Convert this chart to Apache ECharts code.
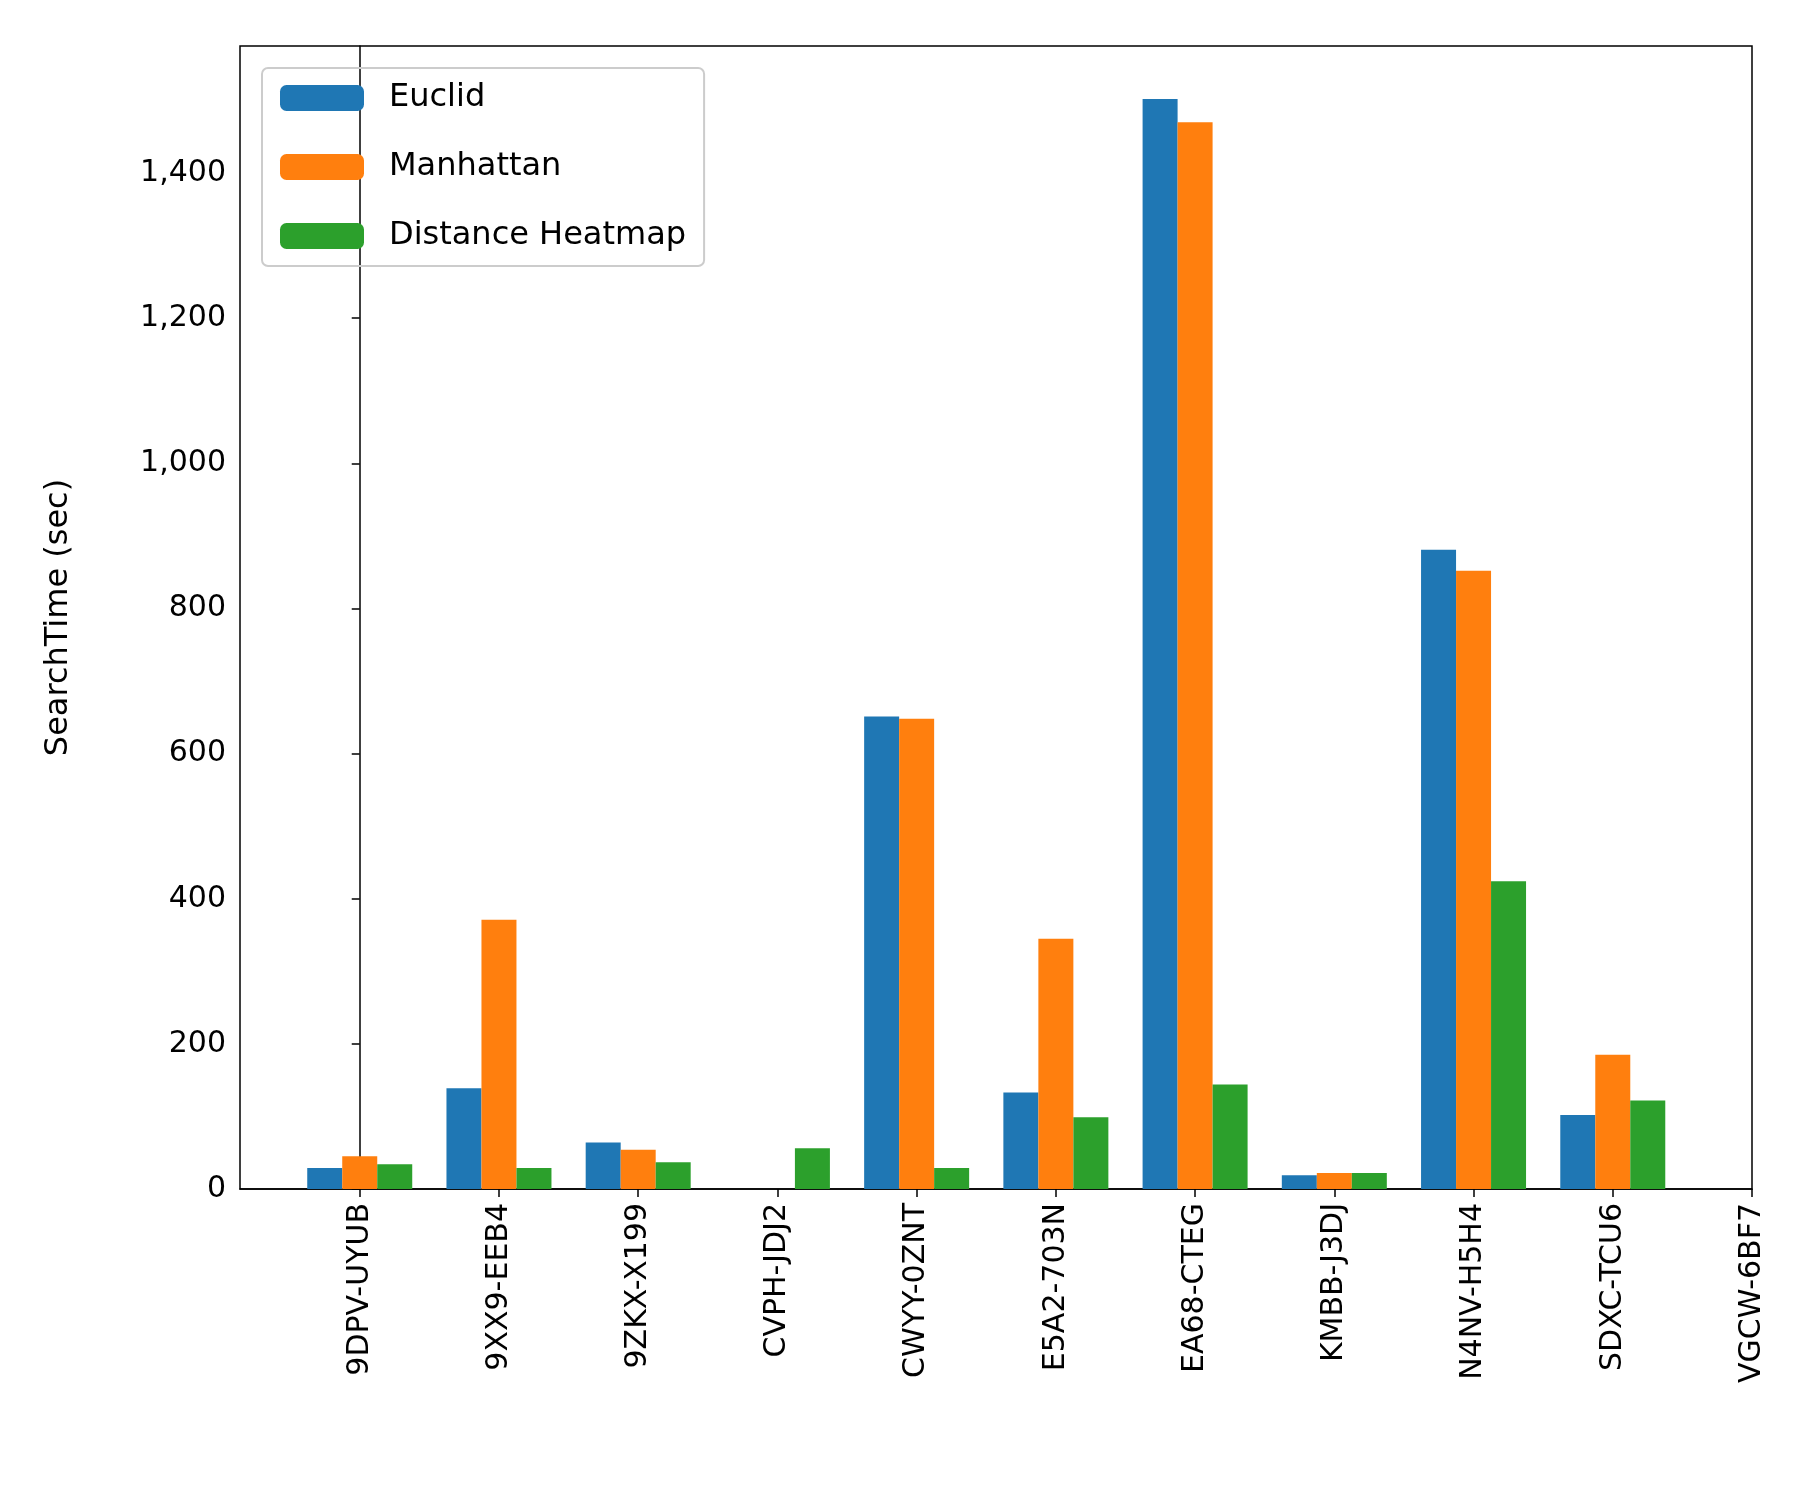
<!DOCTYPE html>
<html>
<head>
<meta charset="utf-8">
<script src="https://cdn.jsdelivr.net/npm/echarts@6/dist/echarts.min.js"></script>
</head>
<body style="margin:0">
<div id="main" style="width:1800px;height:1500px"></div>
<script>
var categories = ['9DPV-UYUB','9XX9-EEB4','9ZKX-X199','CVPH-JDJ2','CWYY-0ZNT','E5A2-703N','EA68-CTEG','KMBB-J3DJ','N4NV-H5H4','SDXC-TCU6','VGCW-6BF7'];
var euclid    = [29, 139, 64, 0, 651, 133, 1502, 19, 881, 102, null];
var manhattan = [45, 371, 54, 0, 648, 345, 1470, 22, 852, 185, null];
var heatmap   = [34, 29, 37, 56, 29, 99, 144, 22, 424, 122, null];

function pts(arr) {
  var out = [];
  arr.forEach(function (v, i) { if (v !== null) out.push([i, v]); });
  return out;
}
function bar(name, arr, color) {
  return { name: name, type: 'bar', data: pts(arr), barWidth: 35, barGap: '0%', itemStyle: { color: color } };
}

var chart = echarts.init(document.getElementById('main'));
var ticks = categories.map(function (c, i) { return i; });
chart.setOption({
  animation: false,
  textStyle: { fontFamily: 'DejaVu Sans' },
  grid: { left: 240, right: 48, top: 46, bottom: 311, show: true, borderColor: '#000', borderWidth: 1.5 },
  legend: {
    orient: 'vertical', left: 262, top: 68, itemWidth: 84, itemHeight: 26, itemGap: 37,
    padding: [14, 18, 14, 18], borderColor: '#ccc', borderWidth: 2, borderRadius: 6,
    textStyle: { fontSize: 32, color: '#000', padding: [0, 0, 0, 20] },
    data: ['Euclid', 'Manhattan', 'Distance Heatmap']
  },
  xAxis: {
    type: 'value', min: -0.86, max: 10,
    splitLine: { show: false },
    axisLine: { lineStyle: { color: '#000', width: 1.5 } },
    axisTick: { show: true, length: 8, lineStyle: { color: '#000', width: 1.5 }, customValues: ticks },
    axisLabel: {
      customValues: ticks, rotate: 90, fontSize: 30, color: '#000', margin: 14,
      formatter: function (v) { return categories[Math.round(v)]; }
    }
  },
  yAxis: {
    type: 'value', min: 0, max: 1575, interval: 200,
    name: 'SearchTime (sec)', nameLocation: 'middle', nameGap: 165,
    nameTextStyle: { fontSize: 32, color: '#000' },
    splitLine: { show: false },
    axisLine: { show: true, lineStyle: { color: '#000', width: 1.5 } },
    axisTick: { show: true, length: 8, lineStyle: { color: '#000', width: 1.5 } },
    axisLabel: { fontSize: 30, color: '#000', margin: 14, showMaxLabel: false }
  },
  series: [
    bar('Euclid', euclid, '#1f77b4'),
    bar('Manhattan', manhattan, '#ff7f0e'),
    bar('Distance Heatmap', heatmap, '#2ca02c')
  ]
});
</script>
</body>
</html>
